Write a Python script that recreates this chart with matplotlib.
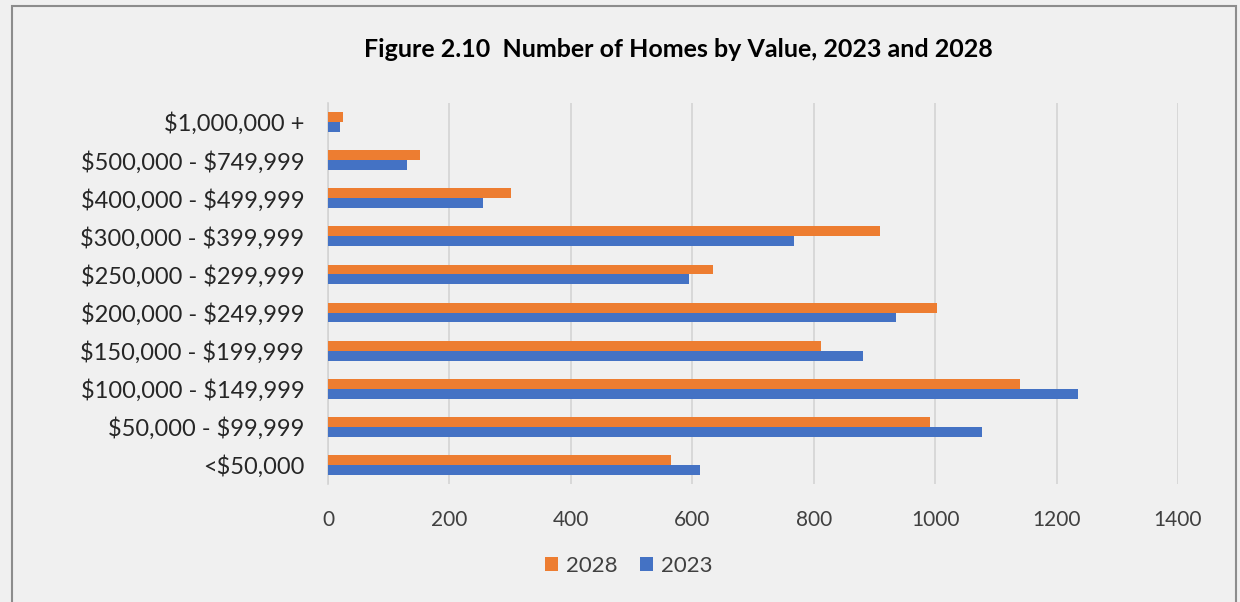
import matplotlib
matplotlib.use("Agg")
import matplotlib.pyplot as plt
import numpy as np
from matplotlib.patches import Rectangle

categories = ["<$50,000", "$50,000 - $99,999", "$100,000 - $149,999", "$150,000 - $199,999",
              "$200,000 - $249,999", "$250,000 - $299,999", "$300,000 - $399,999",
              "$400,000 - $499,999", "$500,000 - $749,999", "$1,000,000 +"]
values_2028 = [565, 991, 1140, 812, 1003, 634, 909, 301, 151, 24]
values_2023 = [613, 1078, 1235, 881, 936, 595, 767, 255, 130, 20]
xticks = [0, 200, 400, 600, 800, 1000, 1200, 1400]

plt.rcParams['font.family'] = ['Lato', 'DejaVu Sans']
plt.rcParams['text.parse_math'] = False
bg = "#F0F0F0"
orange = "#ED7D31"
blue = "#4472C4"

fig = plt.figure(figsize=(12.4, 6.02), dpi=100, facecolor=bg)
ax = fig.add_axes([0.2645, 0.196, 0.6855, 0.633], facecolor=bg)

y = np.arange(len(categories))
h = 0.26
ax.barh(y + h / 2, values_2028, height=h, color=orange, label="2028", zorder=3)
ax.barh(y - h / 2, values_2023, height=h, color=blue, label="2023", zorder=3)

ax.set_xlim(0, 1400)
ax.set_ylim(-0.5, len(categories) - 0.5)
ax.set_xticks(xticks)
ax.set_xticklabels([str(t) for t in xticks], fontsize=15, color="#404040")
ax.set_yticks(y)
ax.set_yticklabels(categories, fontsize=17, color="#262626")
ax.tick_params(axis='both', length=0)
ax.tick_params(axis='x', pad=19)
ax.tick_params(axis='y', pad=17)
ax.grid(axis='x', color="#D4D4D4", linewidth=1.2, zorder=0)
for s in ["top", "right", "bottom"]:
    ax.spines[s].set_visible(False)
ax.spines["left"].set_color("#D4D4D4")
ax.spines["left"].set_linewidth(1.2)

fig.text(0.547, 0.918, "Figure 2.10  Number of Homes by Value, 2023 and 2028",
         ha="center", va="center", fontsize=18, fontweight="bold", color="#000000")

leg = fig.legend(loc="center", bbox_to_anchor=(0.507, 0.06), ncol=2, frameon=False,
                 fontsize=16, handlelength=0.6, handleheight=0.6, handletextpad=0.35,
                 columnspacing=1.0, labelcolor="#404040")

fig.patches.append(Rectangle((12 / 1240, -0.05), (1236 - 12) / 1240, 1 - 6 / 602 + 0.05,
                             transform=fig.transFigure, fill=False,
                             edgecolor="#8C8C8C", linewidth=1.5))

fig.savefig("out.png", dpi=100, facecolor=bg)
